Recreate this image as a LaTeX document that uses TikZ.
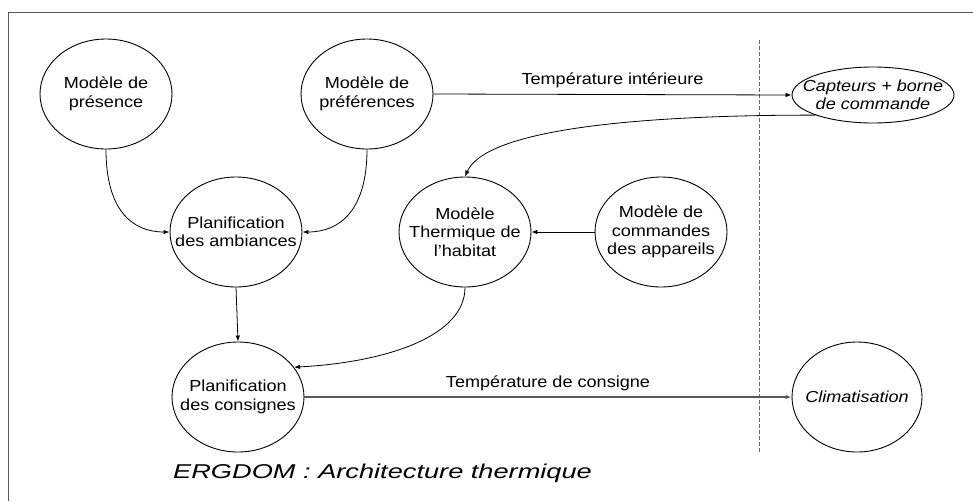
\documentclass[tikz,border=0pt]{standalone}
\usepackage{fontspec}
\setmainfont{Liberation Sans}
\newfontfamily\nodefont{Liberation Sans}[FakeStretch=1.13]
\newfontfamily\titlefont{Liberation Sans}[FakeStretch=1.36]
\usetikzlibrary{shapes.geometric,arrows.meta}
\tikzset{
  ell/.style={draw, ellipse, inner sep=0pt, line width=0.9pt, minimum width=132pt, minimum height=110pt},
  txt/.style={align=center, inner sep=0pt, font=\nodefont\fontsize{16}{18.5}\selectfont},
  itxt/.style={txt, font=\nodefont\itshape\fontsize{16}{17.5}\selectfont},
  arr/.style={-{Latex[length=6pt,width=4.5pt]}, line width=0.8pt},
  lbl/.style={anchor=base, inner sep=0pt, font=\nodefont\fontsize{16}{18}\selectfont},
  frame/.style={draw=black!65, line width=1pt},
  sep/.style={draw=black!60, line width=1pt, dash pattern=on 3.5pt off 2.5pt}
}
\begin{document}
\begin{tikzpicture}[x=1pt,y=-1pt]
\useasboundingbox (0,0) rectangle (973,501);
% frame
\coordinate (ftr) at (973,12);
\coordinate (ftl) at (8,12);
\coordinate (fbl) at (8,501);
\draw[frame] (ftr) -- (ftl) -- (fbl);
% separator
\coordinate (dtop) at (759,40);
\coordinate (dbot) at (759,452);
\draw[sep] (dtop) -- (dbot);
% nodes
\node[ell] (pres) at (106,94) {};
\node[txt] at (pres.center) {Modèle de\\présence};
\node[ell] (pref) at (367,94) {};
\node[txt] at (pref.center) {Modèle de\\préférences};
\node[ell] (amb) at (236,232) {};
\node[txt] at (amb.center) {Planification\\des ambiances};
\node[ell] (therm) at (465,232) {};
\node[txt] at (therm.center) {Modèle\\Thermique de\\l’habitat};
\node[ell] (cmd) at (661,232) {};
\node[txt] at (cmd.center) {Modèle de\\commandes\\des appareils};
\node[ell, minimum width=162pt, minimum height=56pt] (cap) at (873,95) {};
\node[itxt] at (cap.center) {Capteurs + borne\\de commande};
\node[ell] (cons) at (238,397) {};
\node[txt] at (cons.center) {Planification\\des consignes};
\node[ell, minimum width=130pt] (clim) at (857,397) {};
\node[itxt] at (clim.center) {Climatisation};
% connectors
\draw[arr] (pres.south) .. controls (106,210) and (132,232) .. (amb.west);
\draw[arr] (pref.south) .. controls (367,210) and (340,232) .. (amb.east);
\draw[arr] (pref.east) -- node[lbl, above=6pt] {Température intérieure} (cap.west);
\draw[arr] (cap.south west) .. controls (620,115) and (485,132) .. (therm.north);
\draw[arr] (cmd.west) -- (therm.east);
\draw[arr] (amb.south) -- (cons.north);
\draw[arr] (therm.south) .. controls (465,335) and (390,362) .. (cons.28);
\draw[arr, draw=black!65, line width=1.4pt] (cons.east) -- node[lbl, above=5pt] {Température de consigne} (clim.west);
% title
\node[anchor=base west, inner sep=0pt, font=\titlefont\itshape\fontsize{20}{22}\selectfont] (title) at (173,478) {ERGDOM : Architecture thermique};
\end{tikzpicture}
\end{document}
